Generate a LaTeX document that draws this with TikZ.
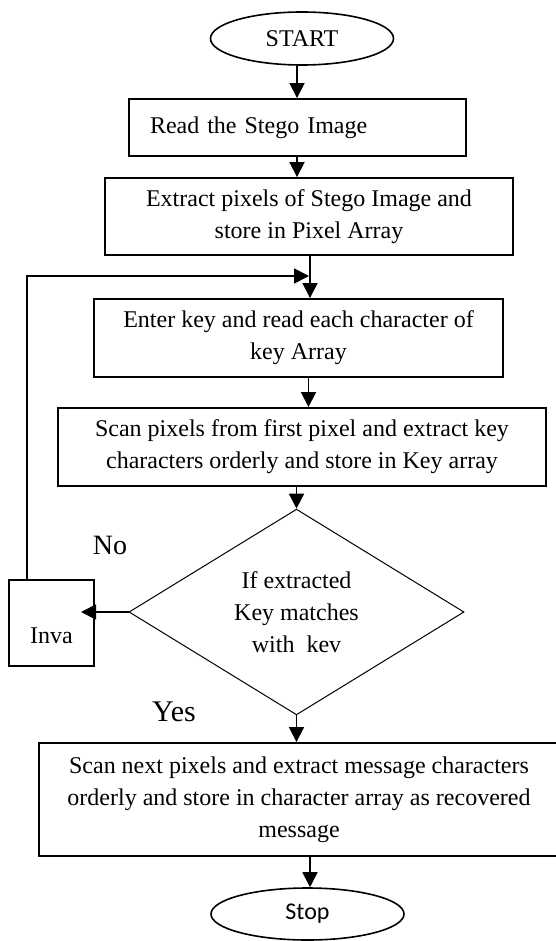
\documentclass[tikz,border=0pt]{standalone}
\usepackage{fontspec}
\setmainfont{Liberation Serif}
\newfontfamily\stopfont{Carlito}
\usetikzlibrary{arrows.meta,shapes.geometric}
\begin{document}
\begin{tikzpicture}[x=1pt,y=-1pt,
  box/.style={draw,line width=1.9pt,inner sep=0pt,align=center,font=\fontsize{24}{32}\selectfont},
  term/.style={draw,ellipse,line width=1.6pt,inner sep=0pt,font=\fontsize{24}{28}\selectfont},
  dec/.style={draw,diamond,line width=1pt,inner sep=0pt,align=center,font=\fontsize{24}{32}\selectfont},
  txt/.style={inner sep=0pt,font=\fontsize{24}{28}\selectfont},
  arr/.style={line width=1.8pt,-{Triangle[length=15pt,width=15pt]}}]
\useasboundingbox (0,0) rectangle (556,941);
\clip (0,0) rectangle (556,941);
\node[term, minimum width=183pt, minimum height=53pt] (start) at (302,38.5) {START};
\node[box, minimum width=337pt, minimum height=57pt, text width=295pt, align=left, inner xsep=21pt] (b1) at (297.5,127.5) {Read the Stego Image};
\node[box, minimum width=408pt, minimum height=77pt] (b2) at (309,216.5) {Extract pixels of Stego Image and\\store in Pixel Array};
\node[box, minimum width=409pt, minimum height=78pt] (b3) at (298.5,338) {Enter key and read each character of\\key Array};
\node[box, minimum width=488pt, minimum height=78pt] (b4) at (302,447) {Scan pixels from first pixel and extract key\\characters orderly and store in Key array};
\node[dec, minimum width=335pt, minimum height=190pt] (d) at (296.5,612) {If extracted\\Key matches\\with\ \ kev};
\node[box, minimum width=85pt, minimum height=86pt] (inv) at (51.5,623) {};
\node[txt] (invt) at (51.5,636) {Inva};
\node[box, minimum width=520pt, minimum height=113pt] (b5) at (299,799.5) {Scan next pixels and extract message characters\\orderly and store in character array as recovered\\message};
\node[term, minimum width=193pt, minimum height=52pt, font=\stopfont\fontsize{24}{28}\selectfont] (stop) at (307.5,914) {Stop};
\node[txt, font=\fontsize{28}{30}\selectfont] (no) at (110,545) {No};
\node[txt, font=\fontsize{30}{32}\selectfont] (yes) at (174,712) {Yes};
\coordinate (xa) at (297,0);
\coordinate (xb) at (310,0);
\coordinate (xc) at (308.5,0);
\coordinate (tipin) at (81,612);
\coordinate (fb) at (27,276);
\coordinate (fbtip) at (309,276);
\draw[arr] (start.south -| xa) -- (b1.north -| xa);
\draw[arr] (b1.south -| xa) -- (b2.north -| xa);
\draw[arr] (b2.south -| xb) -- (b3.north -| xb);
\draw[arr] (b3.south -| xc) -- (b4.north -| xc);
\draw[arr] (b4.south -| d.north) -- (d.north);
\draw[arr] (d.south) -- (b5.north -| d.south);
\draw[arr] (b5.south -| xb) -- (stop.north -| xb);
\draw[arr] (d.west) -- (tipin);
\draw[arr] (inv.north -| fb) -- (fb) -- (fbtip);
\end{tikzpicture}
\end{document}
